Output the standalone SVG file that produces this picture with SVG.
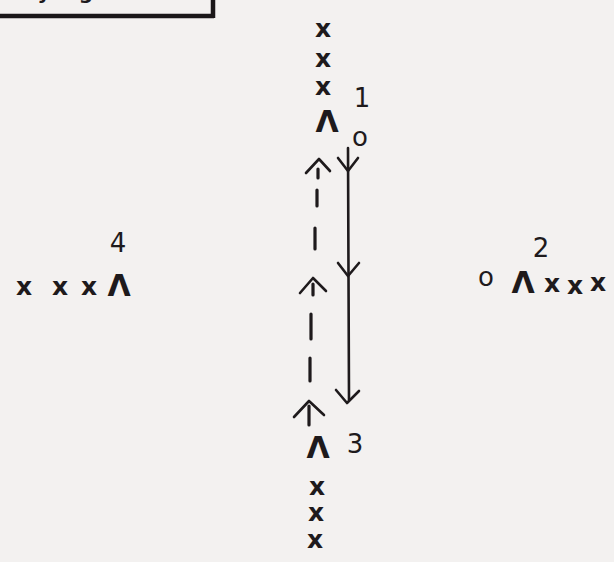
<svg xmlns="http://www.w3.org/2000/svg" width="614" height="562" viewBox="0 0 614 562">
<defs>
<style>
.t{font-family:"DejaVu Sans","Liberation Sans",sans-serif;fill:#1e1a1c;text-anchor:middle;font-weight:bold}
.x{font-size:25px}
.l{font-size:30px}
.n{font-size:26px;font-weight:normal}
.ln{stroke:#1e1a1c;stroke-width:2.6;fill:none;stroke-linecap:round;stroke-linejoin:round}
.ds{stroke:#1e1a1c;stroke-width:3.2;fill:none;stroke-linecap:round}
</style>
</defs>
<rect width="614" height="562" fill="#f3f1f0"/>
<g id="box">
<path d="M0 16 L214 16 M213 0 L213 18" stroke="#1a1618" stroke-width="4.5" fill="none"/>
<text class="t" x="44" y="-1" font-size="20">y</text>
<text class="t" x="86" y="-1" font-size="20">g</text>
</g>
<g id="connectors">
<path class="ln" d="M348 148 L349 400"/>
<path class="ln" d="M338 158 L348 171 L358 158"/>
<path class="ln" d="M338 263 L348 276 L359 263"/>
<path class="ln" d="M336 390 L347 403 L359 391"/>
<path class="ds" d="M318 169 L318 178 M317 190 L317 206 M315 228 L315 249 M313 284 L313 295 M311 314 L311 339 M310 358 L310 381 M309 406 L309 425"/>
<path class="ln" d="M306 173 L319 159 L330 171"/>
<path class="ln" d="M300 293 L313 278 L326 291"/>
<path class="ln" d="M294 417 L309 401 L324 415"/>
</g>
<g id="group1">
<text class="t x" x="323" y="37">x</text>
<text class="t x" x="323" y="67">x</text>
<text class="t x" x="323" y="95">x</text>
<text class="t l" x="327" y="132">Λ</text>
<text class="t n" x="362" y="107">1</text>
<text class="t n" x="360" y="146">o</text>
</g>
<g id="group2">
<text class="t n" x="541" y="257">2</text>
<text class="t n" x="486" y="286">o</text>
<text class="t l" x="523" y="293">Λ</text>
<text class="t x" x="552" y="292">x</text>
<text class="t x" x="575" y="294">x</text>
<text class="t x" x="598" y="291">x</text>
</g>
<g id="group3">
<text class="t l" x="318" y="458">Λ</text>
<text class="t n" x="355" y="453">3</text>
<text class="t x" x="317" y="495">x</text>
<text class="t x" x="316" y="521">x</text>
<text class="t x" x="315" y="548">x</text>
</g>
<g id="group4">
<text class="t n" x="118" y="252">4</text>
<text class="t x" x="24" y="295">x</text>
<text class="t x" x="60" y="295">x</text>
<text class="t x" x="89" y="295">x</text>
<text class="t l" x="119" y="296">Λ</text>
</g>
</svg>
